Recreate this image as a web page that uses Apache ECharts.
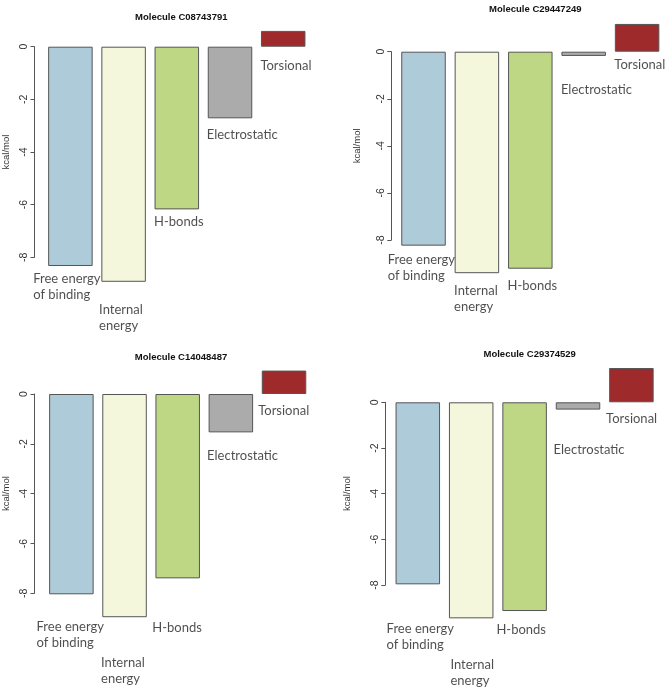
<!DOCTYPE html>
<html><head><meta charset="utf-8">
<script src="https://cdn.jsdelivr.net/npm/echarts@6/dist/echarts.min.js"></script>
<style>html,body{margin:0;padding:0;background:#fff}#c{width:666px;height:690px}</style>
</head><body><div id="c"></div>
<script>
const categories = ['Free energy\nof binding', 'Internal\nenergy', 'H-bonds', 'Electrostatic', 'Torsional'];
const molecules = ['Molecule C08743791', 'Molecule C29447249', 'Molecule C14048487', 'Molecule C29374529'];
const c08743791 = [-8.33, -8.93, -6.18, -2.72, 0.60];
const c29447249 = [-8.24, -9.41, -9.22, -0.18, 1.18];
const c14048487 = [-8.04, -8.96, -7.40, -1.54, 0.94];
const c29374529 = [-7.97, -9.46, -9.14, -0.32, 1.50];
const yTicks = [0, -2, -4, -6, -8];
const yName = 'kcal/mol';

const panelValues = [c08743791, c29447249, c14048487, c29374529];
const barColors = ['#AECBD9', '#F4F7DC', '#BED784', '#ABABAB', '#9E2A2B'];

// layout (px)
const grids = [
  {left: 42.3, top: 46.7, width: 267.5, height: 210.6},
  {left: 396.8, top: 51.7, width: 267, height: 188.3},
  {left: 43.6, top: 394, width: 267, height: 199.3},
  {left: 391.1, top: 402.3, width: 267, height: 182.7}
];
const axisOffsets = [9.3, 5.5, 10.3, 5.8];
const nameGaps = [23.5, 28.5, 23.5, 32.5];
const titlePos = [[176.3, 7.5], [530.3, -0.5], [176, 347], [524.7, 344]];
const labelOffsets = [
  [[-36.7, 5.6], [-24, 21], [-22.3, 5.4], [-22.8, 8.7], [-22.3, 11.3]],
  [[-35.3, 6.3], [-22.3, 10.4], [-22.3, 9.3], [-22.3, 26.7], [-22.3, 6]],
  [[-34.3, 25.4], [-23, 38.3], [-24.9, 42], [-23.3, 15.7], [-25.3, 9]],
  [[-30.7, 37], [-20.3, 39.4], [-27.7, 11.7], [-23.9, 32.3], [-24.8, 9.4]]
];

const yMin = Math.min(...yTicks), yMax = Math.max(...yTicks);
const option = {
  animation: false,
  backgroundColor: '#ffffff',
  title: molecules.map((m, i) => ({
    text: m, left: titlePos[i][0], top: titlePos[i][1], textAlign: 'center',
    textStyle: {fontFamily: 'Liberation Sans, Arial', fontWeight: 'bold', fontSize: 9.5, color: '#111'}
  })),
  grid: grids.map(g => Object.assign({containLabel: false}, g)),
  xAxis: grids.map((g, i) => ({
    type: 'category', gridIndex: i, data: categories,
    axisLine: {show: false}, axisTick: {show: false}, axisLabel: {show: false}, splitLine: {show: false}
  })),
  yAxis: grids.map((g, i) => ({
    type: 'value', gridIndex: i, min: yMin, max: yMax, interval: 2,
    offset: axisOffsets[i],
    name: yName, nameLocation: 'middle', nameRotate: 90, nameGap: nameGaps[i],
    nameTextStyle: {fontFamily: 'Liberation Sans, Arial', fontSize: 9.5, color: '#333'},
    axisLine: {show: true, lineStyle: {color: '#555', width: 1}},
    axisTick: {show: true, length: 4, lineStyle: {color: '#555'}},
    axisLabel: {rotate: 90, margin: 5, fontFamily: 'Liberation Sans, Arial', fontSize: 10.5, color: '#333'},
    splitLine: {show: false}
  })),
  series: []
};

panelValues.forEach((vals, i) => {
  option.series.push({
    type: 'bar', xAxisIndex: i, yAxisIndex: i, clip: false, barWidth: 44.5,
    data: vals.map((v, k) => ({value: v, itemStyle: {color: barColors[k], borderColor: '#555', borderWidth: 1}})),
    silent: true
  });
  option.series.push({
    type: 'scatter', xAxisIndex: i, yAxisIndex: i, clip: false, symbolSize: 1,
    itemStyle: {color: 'rgba(0,0,0,0)'}, silent: true, z: 5,
    data: vals.map((v, k) => ({
      value: [k, Math.min(v, 0)],
      label: {show: true, formatter: categories[k], position: [0, 0], align: 'left', verticalAlign: 'top',
        offset: labelOffsets[i][k], fontFamily: 'Lato, Open Sans, sans-serif', fontSize: 13, lineHeight: 16, color: '#231F20'}
    }))
  });
});

const chart = echarts.init(document.getElementById('c'), null, {renderer: 'canvas'});
chart.setOption(option);
</script>
</body></html>
